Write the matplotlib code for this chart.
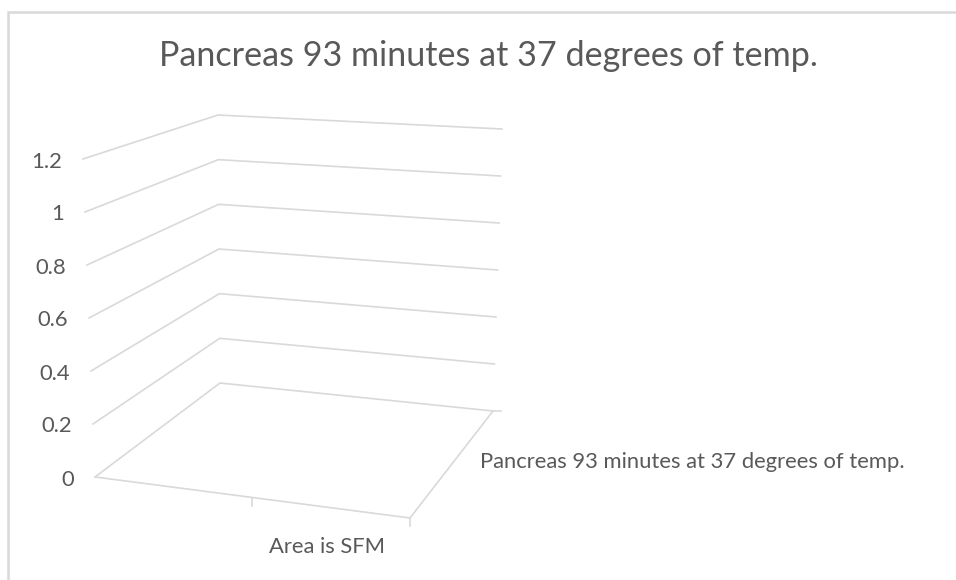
import matplotlib.pyplot as plt

# chart content (the source sheet holds no numbers, so no bars are drawn)
title = "Pancreas 93 minutes at 37 degrees of temp."
categories = ["Area is SFM"]
series_names = ["Pancreas 93 minutes at 37 degrees of temp."]
values = []
y_ticks = [0, 0.2, 0.4, 0.6, 0.8, 1, 1.2]
y_tick_labels = ["0", "0.2", "0.4", "0.6", "0.8", "1", "1.2"]
y_max = 1.2

plt.rcParams['font.family'] = ['Lato', 'DejaVu Sans']
txt_col = '#595959'
grid_col = '#d9d9d9'

# 3D box layout in pixels: bottom/top of the walls' vertical edges
FL = ((95, 477), (83, 159))    # front-left edge
BL = ((220, 383), (218, 115))  # back-left edge
BR = ((493, 411), (502, 129))  # back-right edge
FR0 = (410, 518)               # front-right floor corner


def lerp(p, q, t):
    return (p[0] + (q[0] - p[0]) * t, p[1] + (q[1] - p[1]) * t)


def edge(e, v):
    return lerp(e[0], e[1], v / y_max)


def floor(cx, depth):
    # position on the floor, cx 0..1 left-right, depth 0 front .. 1 back
    front = lerp(FL[0], FR0, cx)
    back = lerp(BL[0], BR[0], cx)
    return lerp(front, back, depth)


fig = plt.figure(figsize=(9.56, 5.8), dpi=100)
ax = fig.add_axes([0, 0, 1, 1])
ax.set_xlim(0, 956)
ax.set_ylim(580, 0)
ax.axis('off')

# chart area border
ax.plot([8.5, 8.5, 960], [590, 11.5, 11.5], color=grid_col, lw=1.8, solid_joinstyle='miter')

# gridlines on side and back walls
for v, lab in zip(y_ticks, y_tick_labels):
    p1, p2, p3 = edge(FL, v), edge(BL, v), edge(BR, v)
    ax.plot([p1[0], p2[0], p3[0]], [p1[1], p2[1], p3[1]], color=grid_col, lw=1.2)
    ax.text(p1[0] - 21, p1[1] + 8.5, lab, ha='right', va='baseline', fontsize=15.8, color=txt_col)

# floor front and right edges
ax.plot([FL[0][0], FR0[0], BR[0][0]], [FL[0][1], FR0[1], BR[0][1]], color=grid_col, lw=1.2)

# category ticks
for cx in [0.5, 1.0]:
    x, y = floor(cx, 0)
    ax.plot([x, x], [y, y + 8], color=grid_col, lw=1.2)
# series tick
x, y = floor(1.0, 1.0)
ax.plot([x, x + 8], [y, y], color=grid_col, lw=1.2)

# axis labels
ax.text(327, 553, categories[0], ha='center', va='baseline', fontsize=15.8, color=txt_col)
ax.text(480, 468, series_names[0], ha='left', va='baseline', fontsize=15.8, color=txt_col)

ax.text(488.5, 66, title, ha='center', va='baseline', fontsize=24.6, color=txt_col)

fig.savefig('out.png', dpi=100)
